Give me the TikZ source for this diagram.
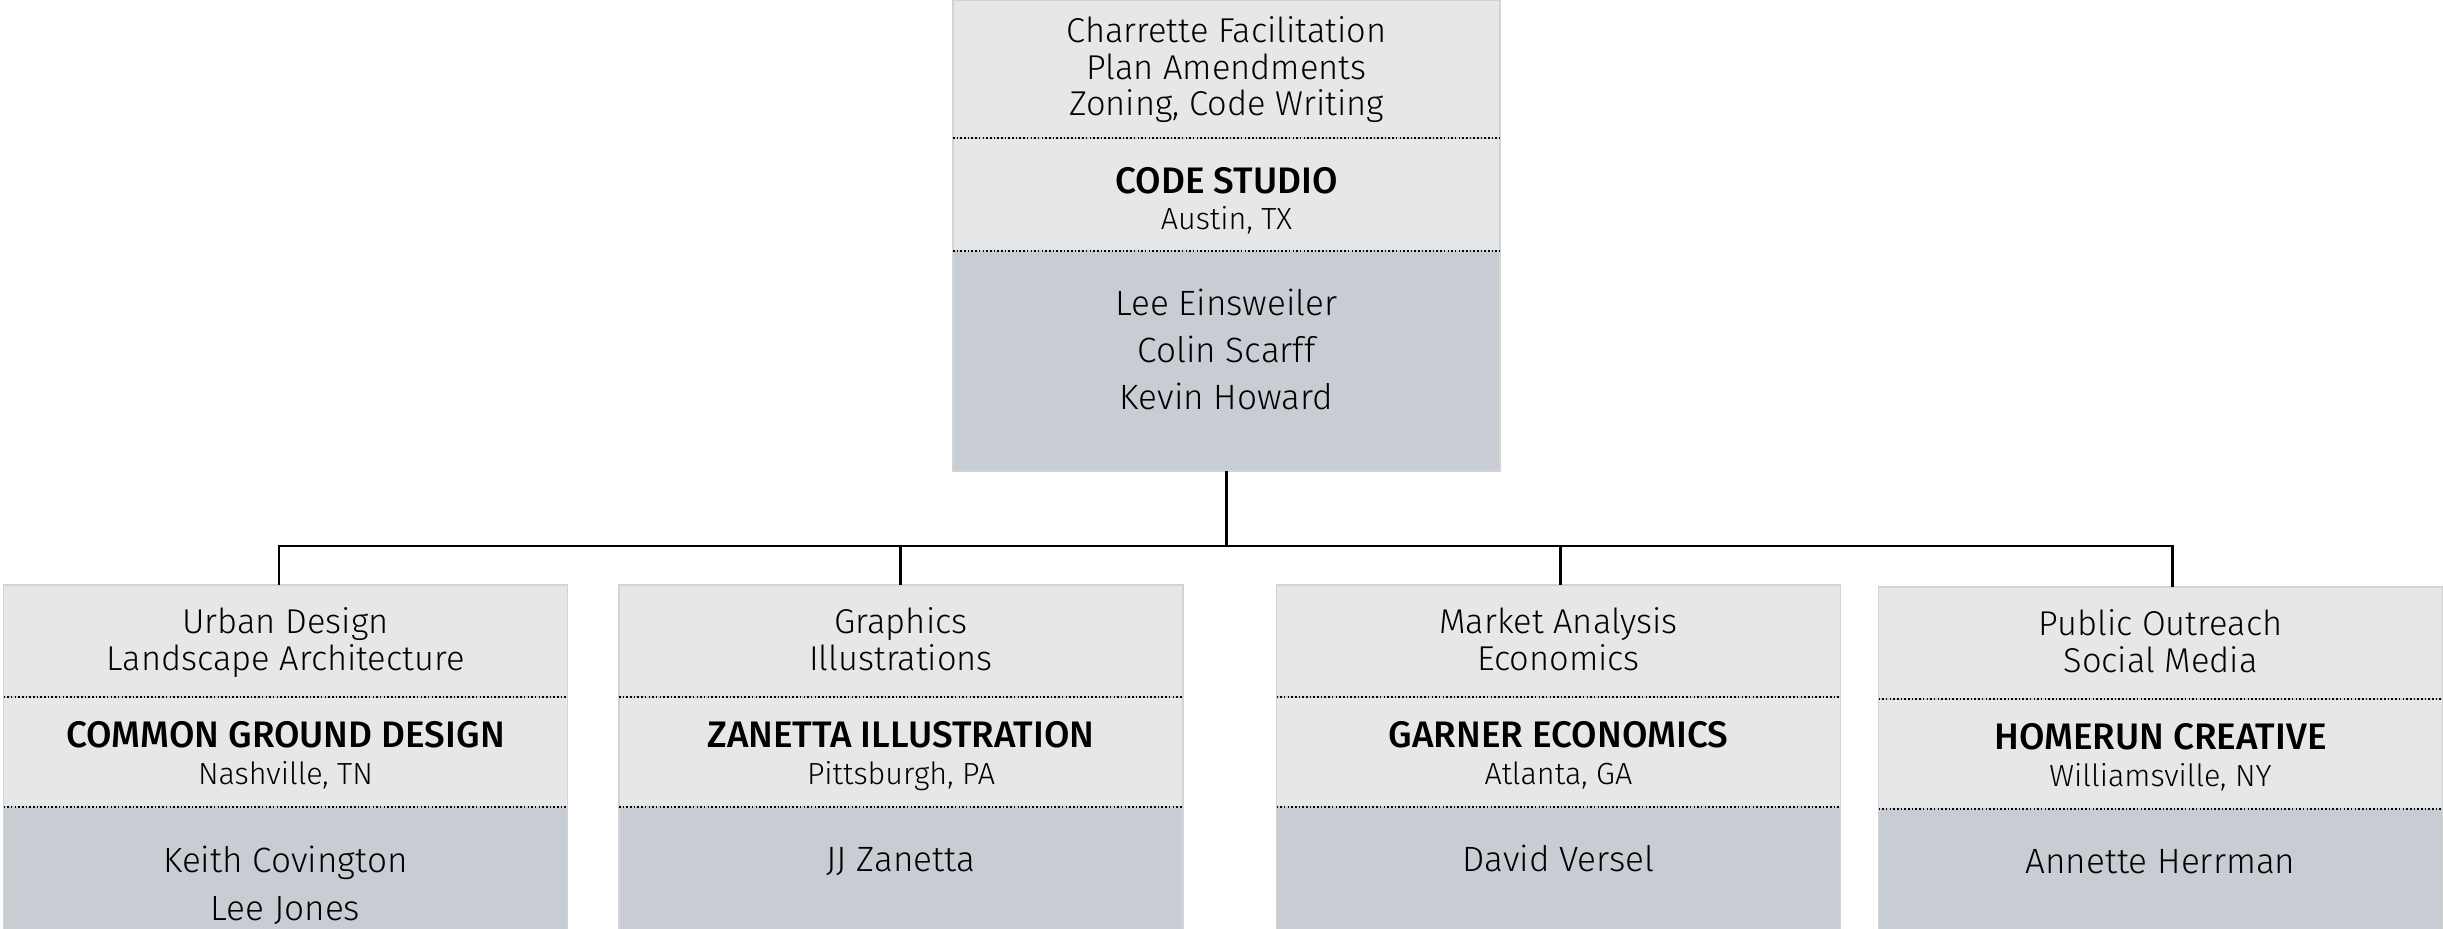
\documentclass[tikz,border=0pt]{standalone}
\usepackage{fontspec}
\setmainfont{Fira Sans Light}[BoldFont={Fira Sans Medium}]
\usetikzlibrary{positioning}
\definecolor{paleg}{HTML}{E6E7E8}
\definecolor{slateg}{HTML}{C7CDD3}
\definecolor{edgeg}{HTML}{D1D3D4}
\tikzset{
  sect/.style={draw=edgeg, line width=0.4pt, minimum width=56.4mm, inner sep=0pt, outer sep=0pt, align=center},
  svc/.style={sect, fill=paleg, text height=8.5mm, text depth=2.7mm, font=\fontsize{9.8}{10.5}\selectfont},
  firm/.style={sect, fill=paleg, text height=8.7mm, text depth=2.3mm, font=\fontsize{8.7}{10.5}\selectfont},
  ppl/.style={sect, fill=slateg, font=\fontsize{10}{13.5}\selectfont, text height=6.4mm, text depth=20mm},
  dotline/.style={line width=0.55pt, dash pattern=on 0.45pt off 0.6pt},
  link/.style={line width=0.85pt}
}
\newcommand{\firmname}[1]{{\fontsize{10.5}{10.5}\selectfont\bfseries #1}}

\begin{document}
\begin{tikzpicture}[x=0.1mm,y=0.1mm]
\useasboundingbox (0,0) rectangle (2443,-929);

% lead firm
\node[svc, anchor=north, minimum width=54.7mm, text height=11.6mm, text depth=2.2mm] (cs-svc) at (1226.5,0)
  {Charrette Facilitation\\Plan Amendments\\Zoning, Code Writing};
\node[firm, below=0pt of cs-svc, minimum width=54.7mm, text height=9.2mm, text depth=2.1mm] (cs-firm)
  {\firmname{CODE STUDIO}\\Austin, TX};
\node[ppl, below=0pt of cs-firm, minimum width=54.7mm, text height=15.9mm, text depth=6.1mm] (cs-ppl)
  {Lee Einsweiler\\Colin Scarff\\Kevin Howard};

% sub consultants
\node[svc, anchor=north] (ug-svc) at (285.5,-585) {Urban Design\\Landscape Architecture};
\node[firm, below=0pt of ug-svc] (ug-firm) {\firmname{COMMON GROUND DESIGN}\\Nashville, TN};
\node[ppl, below=0pt of ug-firm, text height=11.3mm] (ug-ppl) {Keith Covington\\Lee Jones};

\node[svc, anchor=north] (zi-svc) at (901,-585) {Graphics\\Illustrations};
\node[firm, below=0pt of zi-svc] (zi-firm) {\firmname{ZANETTA ILLUSTRATION}\\Pittsburgh, PA};
\node[ppl, below=0pt of zi-firm] (zi-ppl) {JJ Zanetta};

\node[svc, anchor=north] (ge-svc) at (1558.5,-585) {Market Analysis\\Economics};
\node[firm, below=0pt of ge-svc] (ge-firm) {\firmname{GARNER ECONOMICS}\\Atlanta, GA};
\node[ppl, below=0pt of ge-firm] (ge-ppl) {David Versel};

\node[svc, anchor=north] (hr-svc) at (2160.5,-587) {Public Outreach\\Social Media};
\node[firm, below=0pt of hr-svc] (hr-firm) {\firmname{HOMERUN CREATIVE}\\Williamsville, NY};
\node[ppl, below=0pt of hr-firm] (hr-ppl) {Annette Herrman};

% dotted dividers
\foreach \b in {cs,ug,zi,ge,hr}
         {
           \draw[dotline] (\b-svc.south west) -- (\b-svc.south east);
           \draw[dotline] (\b-firm.south west) -- (\b-firm.south east);
         }

% connectors
\coordinate (hub) at (1226.5,-546);
\draw[link] (cs-ppl.south) -- (hub);
\foreach \b/\dx in {ug/-6.5,zi/-1,ge/1.5,hr/11.5}
  \draw[link] (hub) -| ([xshift=\dx*0.1mm]\b-svc.north);

\end{tikzpicture}
\end{document}
